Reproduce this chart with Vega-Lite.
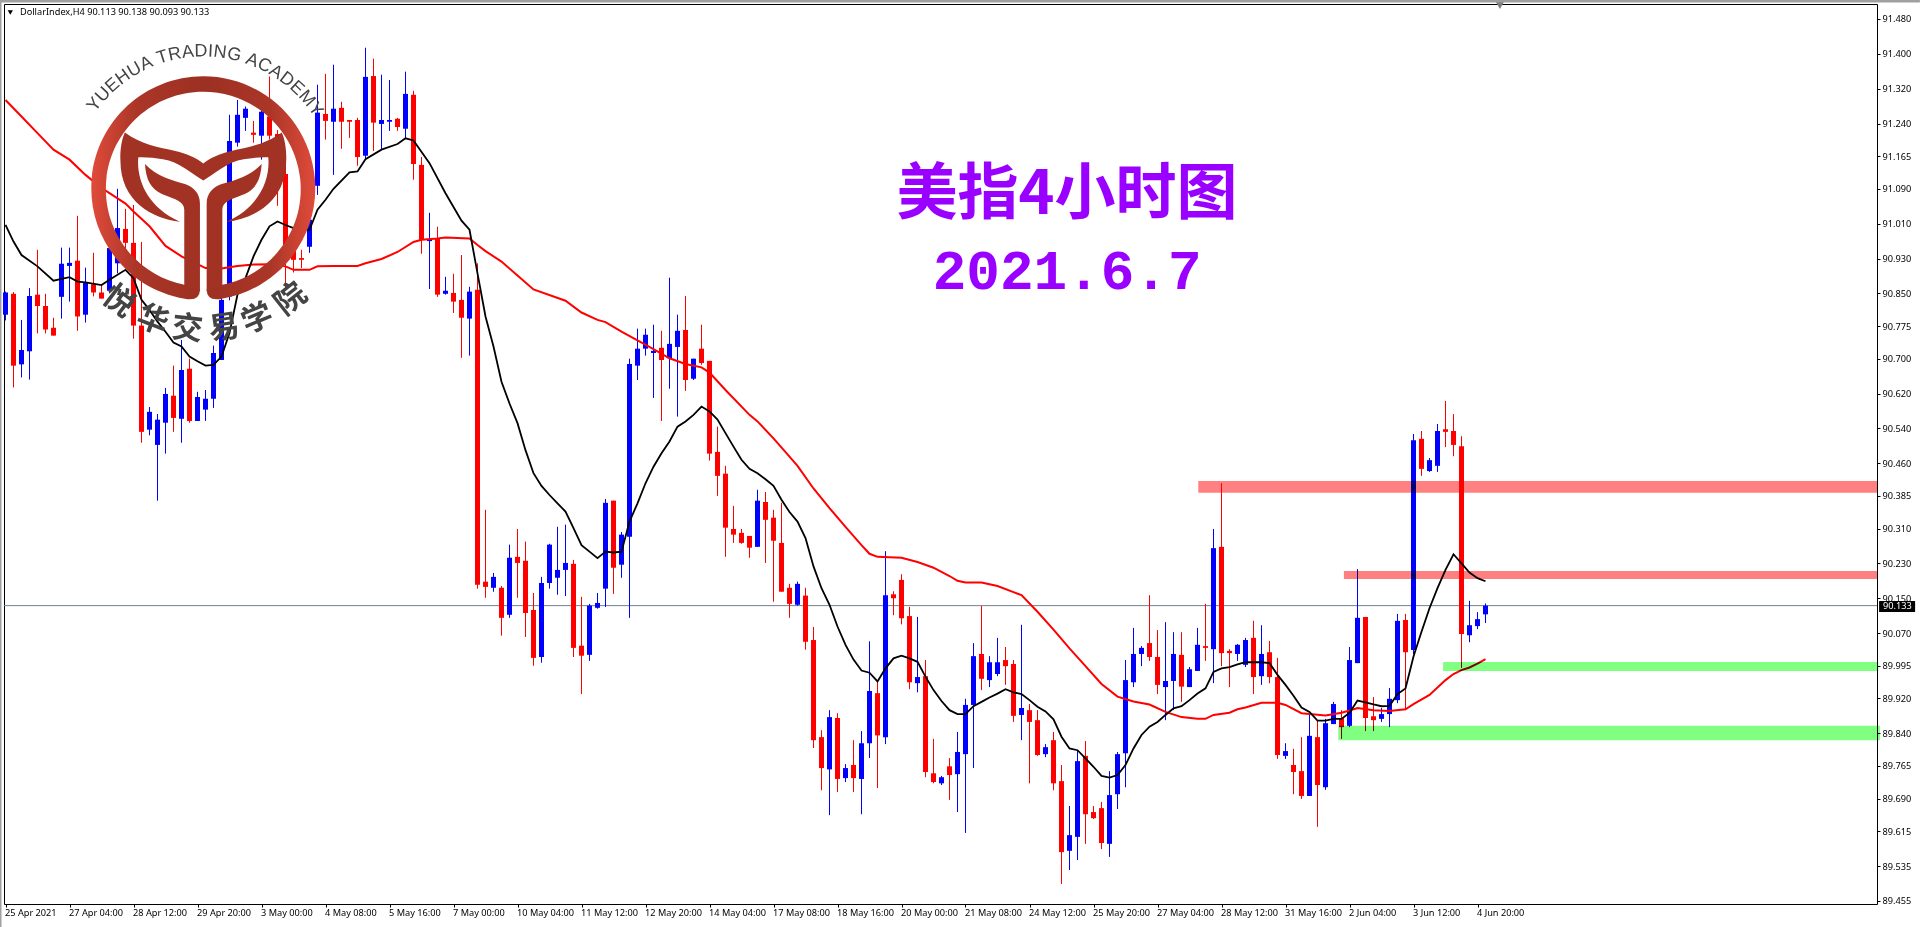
{
"$schema":"https://vega.github.io/schema/vega-lite/v6.json",
"width":1873,"height":900,
"autosize":{"type":"none"},
"padding":{"left":4,"top":4,"right":43,"bottom":23},
"background":"#ffffff",
"config":{"view":{"stroke":"#000000","strokeWidth":1},"axis":{"labelFont":"Noto Sans","labelFontSize":9.2,"labelColor":"#000000","tickColor":"#000000"}},
"datasets":{
"candles":[
{"bar":0,"o":90.801,"h":90.854,"l":90.788,"c":90.852},
{"bar":1,"o":90.849,"h":90.853,"l":90.634,"c":90.684},
{"bar":2,"o":90.687,"h":90.789,"l":90.657,"c":90.720},
{"bar":3,"o":90.717,"h":90.862,"l":90.652,"c":90.844},
{"bar":4,"o":90.847,"h":90.950,"l":90.758,"c":90.821},
{"bar":5,"o":90.821,"h":90.849,"l":90.758,"c":90.767},
{"bar":6,"o":90.771,"h":90.794,"l":90.753,"c":90.753},
{"bar":7,"o":90.842,"h":90.955,"l":90.792,"c":90.918},
{"bar":8,"o":90.913,"h":90.955,"l":90.831,"c":90.920},
{"bar":9,"o":90.925,"h":91.028,"l":90.764,"c":90.797},
{"bar":10,"o":90.801,"h":90.909,"l":90.783,"c":90.876},
{"bar":11,"o":90.871,"h":90.943,"l":90.843,"c":90.852},
{"bar":12,"o":90.852,"h":90.870,"l":90.838,"c":90.838},
{"bar":13,"o":90.856,"h":90.988,"l":90.850,"c":90.954},
{"bar":14,"o":90.919,"h":91.090,"l":90.896,"c":91.000},
{"bar":15,"o":90.998,"h":91.044,"l":90.912,"c":90.966},
{"bar":16,"o":90.966,"h":91.053,"l":90.746,"c":90.776},
{"bar":17,"o":90.776,"h":90.968,"l":90.507,"c":90.532},
{"bar":18,"o":90.537,"h":90.589,"l":90.524,"c":90.578},
{"bar":19,"o":90.502,"h":90.573,"l":90.374,"c":90.560},
{"bar":20,"o":90.553,"h":90.633,"l":90.482,"c":90.619},
{"bar":21,"o":90.615,"h":90.684,"l":90.532,"c":90.564},
{"bar":22,"o":90.562,"h":90.743,"l":90.507,"c":90.674},
{"bar":23,"o":90.677,"h":90.700,"l":90.553,"c":90.557},
{"bar":24,"o":90.557,"h":90.624,"l":90.557,"c":90.612},
{"bar":25,"o":90.583,"h":90.628,"l":90.557,"c":90.608},
{"bar":26,"o":90.608,"h":90.730,"l":90.587,"c":90.713},
{"bar":27,"o":90.697,"h":90.850,"l":90.697,"c":90.835},
{"bar":28,"o":90.843,"h":91.260,"l":90.834,"c":91.200},
{"bar":29,"o":91.196,"h":91.294,"l":91.187,"c":91.260},
{"bar":30,"o":91.253,"h":91.279,"l":91.223,"c":91.274},
{"bar":31,"o":91.219,"h":91.246,"l":91.196,"c":91.214},
{"bar":32,"o":91.212,"h":91.294,"l":91.157,"c":91.267},
{"bar":33,"o":91.256,"h":91.348,"l":91.203,"c":91.212},
{"bar":34,"o":91.216,"h":91.225,"l":91.051,"c":91.157},
{"bar":35,"o":91.124,"h":91.145,"l":90.858,"c":90.927},
{"bar":36,"o":90.973,"h":90.988,"l":90.898,"c":90.927},
{"bar":37,"o":90.931,"h":90.950,"l":90.908,"c":90.927},
{"bar":38,"o":90.957,"h":91.034,"l":90.943,"c":91.019},
{"bar":39,"o":91.097,"h":91.329,"l":91.076,"c":91.265},
{"bar":40,"o":91.262,"h":91.354,"l":91.203,"c":91.246},
{"bar":41,"o":91.244,"h":91.375,"l":91.122,"c":91.274},
{"bar":42,"o":91.276,"h":91.290,"l":91.182,"c":91.244},
{"bar":43,"o":91.248,"h":91.248,"l":91.207,"c":91.244},
{"bar":44,"o":91.248,"h":91.253,"l":91.143,"c":91.163},
{"bar":45,"o":91.166,"h":91.414,"l":91.157,"c":91.347},
{"bar":46,"o":91.349,"h":91.389,"l":91.177,"c":91.242},
{"bar":47,"o":91.239,"h":91.352,"l":91.180,"c":91.248},
{"bar":48,"o":91.244,"h":91.340,"l":91.223,"c":91.248},
{"bar":49,"o":91.251,"h":91.253,"l":91.223,"c":91.232},
{"bar":50,"o":91.228,"h":91.359,"l":91.206,"c":91.308},
{"bar":51,"o":91.306,"h":91.315,"l":91.111,"c":91.147},
{"bar":52,"o":91.145,"h":91.163,"l":90.941,"c":90.973},
{"bar":53,"o":90.970,"h":91.035,"l":90.860,"c":90.974},
{"bar":54,"o":90.975,"h":91.003,"l":90.842,"c":90.847},
{"bar":55,"o":90.849,"h":90.888,"l":90.847,"c":90.856},
{"bar":56,"o":90.851,"h":90.895,"l":90.805,"c":90.831},
{"bar":57,"o":90.835,"h":90.938,"l":90.702,"c":90.794},
{"bar":58,"o":90.792,"h":90.865,"l":90.707,"c":90.854},
{"bar":59,"o":90.858,"h":90.919,"l":90.172,"c":90.181},
{"bar":60,"o":90.188,"h":90.353,"l":90.151,"c":90.176},
{"bar":61,"o":90.174,"h":90.208,"l":90.165,"c":90.199},
{"bar":62,"o":90.174,"h":90.178,"l":90.064,"c":90.105},
{"bar":63,"o":90.112,"h":90.273,"l":90.105,"c":90.243},
{"bar":64,"o":90.245,"h":90.309,"l":90.151,"c":90.231},
{"bar":65,"o":90.236,"h":90.280,"l":90.061,"c":90.116},
{"bar":66,"o":90.123,"h":90.162,"l":89.995,"c":90.013},
{"bar":67,"o":90.015,"h":90.199,"l":90.002,"c":90.185},
{"bar":68,"o":90.185,"h":90.275,"l":90.172,"c":90.273},
{"bar":69,"o":90.197,"h":90.314,"l":90.158,"c":90.215},
{"bar":70,"o":90.215,"h":90.319,"l":90.155,"c":90.231},
{"bar":71,"o":90.229,"h":90.238,"l":90.015,"c":90.036},
{"bar":72,"o":90.041,"h":90.153,"l":89.930,"c":90.018},
{"bar":73,"o":90.020,"h":90.137,"l":90.006,"c":90.133},
{"bar":74,"o":90.128,"h":90.162,"l":90.126,"c":90.139},
{"bar":75,"o":90.172,"h":90.378,"l":90.130,"c":90.369},
{"bar":76,"o":90.374,"h":90.374,"l":90.160,"c":90.220},
{"bar":77,"o":90.227,"h":90.302,"l":90.197,"c":90.296},
{"bar":78,"o":90.291,"h":90.700,"l":90.105,"c":90.688},
{"bar":79,"o":90.684,"h":90.769,"l":90.651,"c":90.723},
{"bar":80,"o":90.723,"h":90.769,"l":90.707,"c":90.755},
{"bar":81,"o":90.713,"h":90.778,"l":90.610,"c":90.718},
{"bar":82,"o":90.725,"h":90.764,"l":90.557,"c":90.697},
{"bar":83,"o":90.701,"h":90.886,"l":90.631,"c":90.734},
{"bar":84,"o":90.727,"h":90.801,"l":90.567,"c":90.764},
{"bar":85,"o":90.766,"h":90.844,"l":90.626,"c":90.651},
{"bar":86,"o":90.654,"h":90.700,"l":90.651,"c":90.700},
{"bar":87,"o":90.723,"h":90.778,"l":90.686,"c":90.690},
{"bar":88,"o":90.695,"h":90.695,"l":90.466,"c":90.482},
{"bar":89,"o":90.486,"h":90.544,"l":90.385,"c":90.431},
{"bar":90,"o":90.436,"h":90.454,"l":90.245,"c":90.312},
{"bar":91,"o":90.309,"h":90.362,"l":90.277,"c":90.296},
{"bar":92,"o":90.300,"h":90.309,"l":90.275,"c":90.277},
{"bar":93,"o":90.293,"h":90.293,"l":90.243,"c":90.266},
{"bar":94,"o":90.268,"h":90.399,"l":90.268,"c":90.374},
{"bar":95,"o":90.371,"h":90.394,"l":90.231,"c":90.330},
{"bar":96,"o":90.335,"h":90.353,"l":90.142,"c":90.282},
{"bar":97,"o":90.277,"h":90.369,"l":90.165,"c":90.165},
{"bar":98,"o":90.174,"h":90.183,"l":90.105,"c":90.137},
{"bar":99,"o":90.135,"h":90.188,"l":90.133,"c":90.183},
{"bar":100,"o":90.156,"h":90.174,"l":90.032,"c":90.050},
{"bar":101,"o":90.054,"h":90.084,"l":89.806,"c":89.824},
{"bar":102,"o":89.831,"h":89.847,"l":89.709,"c":89.760},
{"bar":103,"o":89.757,"h":89.893,"l":89.652,"c":89.877},
{"bar":104,"o":89.875,"h":89.886,"l":89.705,"c":89.735},
{"bar":105,"o":89.737,"h":89.769,"l":89.728,"c":89.760},
{"bar":106,"o":89.767,"h":89.824,"l":89.705,"c":89.737},
{"bar":107,"o":89.735,"h":89.845,"l":89.654,"c":89.817},
{"bar":108,"o":89.817,"h":90.051,"l":89.783,"c":89.937},
{"bar":109,"o":89.932,"h":89.962,"l":89.714,"c":89.835},
{"bar":110,"o":89.831,"h":90.258,"l":89.815,"c":90.157},
{"bar":111,"o":90.159,"h":90.166,"l":90.111,"c":90.150},
{"bar":112,"o":90.192,"h":90.205,"l":90.090,"c":90.104},
{"bar":113,"o":90.109,"h":90.130,"l":89.941,"c":89.957},
{"bar":114,"o":89.955,"h":90.107,"l":89.934,"c":89.969},
{"bar":115,"o":89.971,"h":90.008,"l":89.739,"c":89.751},
{"bar":116,"o":89.748,"h":89.827,"l":89.725,"c":89.728},
{"bar":117,"o":89.725,"h":89.742,"l":89.721,"c":89.739},
{"bar":118,"o":89.764,"h":89.783,"l":89.687,"c":89.744},
{"bar":119,"o":89.746,"h":89.843,"l":89.659,"c":89.797},
{"bar":120,"o":89.792,"h":89.919,"l":89.611,"c":89.905},
{"bar":121,"o":89.905,"h":90.047,"l":89.760,"c":90.017},
{"bar":122,"o":90.022,"h":90.132,"l":89.939,"c":89.965},
{"bar":123,"o":89.962,"h":90.017,"l":89.946,"c":90.003},
{"bar":124,"o":89.976,"h":90.059,"l":89.971,"c":90.003},
{"bar":125,"o":90.008,"h":90.038,"l":89.951,"c":89.994},
{"bar":126,"o":89.999,"h":90.008,"l":89.866,"c":89.880},
{"bar":127,"o":89.882,"h":90.089,"l":89.824,"c":89.898},
{"bar":128,"o":89.893,"h":89.907,"l":89.725,"c":89.866},
{"bar":129,"o":89.870,"h":89.893,"l":89.788,"c":89.790},
{"bar":130,"o":89.792,"h":89.815,"l":89.785,"c":89.808},
{"bar":131,"o":89.824,"h":89.843,"l":89.709,"c":89.725},
{"bar":132,"o":89.730,"h":89.767,"l":89.494,"c":89.567},
{"bar":133,"o":89.570,"h":89.673,"l":89.526,"c":89.606},
{"bar":134,"o":89.602,"h":89.801,"l":89.549,"c":89.776},
{"bar":135,"o":89.788,"h":89.822,"l":89.586,"c":89.654},
{"bar":136,"o":89.659,"h":89.673,"l":89.643,"c":89.645},
{"bar":137,"o":89.668,"h":89.682,"l":89.574,"c":89.588},
{"bar":138,"o":89.586,"h":89.753,"l":89.556,"c":89.698},
{"bar":139,"o":89.700,"h":89.797,"l":89.666,"c":89.792},
{"bar":140,"o":89.794,"h":90.008,"l":89.716,"c":89.962},
{"bar":141,"o":89.957,"h":90.082,"l":89.946,"c":90.022},
{"bar":142,"o":90.022,"h":90.040,"l":89.994,"c":90.036},
{"bar":143,"o":90.047,"h":90.157,"l":90.006,"c":90.015},
{"bar":144,"o":90.015,"h":90.077,"l":89.930,"c":89.951},
{"bar":145,"o":89.946,"h":90.095,"l":89.870,"c":89.960},
{"bar":146,"o":89.960,"h":90.072,"l":89.893,"c":90.022},
{"bar":147,"o":90.020,"h":90.072,"l":89.912,"c":89.947},
{"bar":148,"o":89.946,"h":89.992,"l":89.946,"c":89.987},
{"bar":149,"o":89.983,"h":90.082,"l":89.983,"c":90.043},
{"bar":150,"o":90.040,"h":90.137,"l":90.006,"c":90.036},
{"bar":151,"o":90.033,"h":90.309,"l":89.955,"c":90.265},
{"bar":152,"o":90.268,"h":90.414,"l":89.994,"c":90.024},
{"bar":153,"o":90.029,"h":90.033,"l":89.946,"c":90.024},
{"bar":154,"o":90.022,"h":90.045,"l":90.006,"c":90.043},
{"bar":155,"o":89.997,"h":90.059,"l":89.992,"c":90.054},
{"bar":156,"o":90.059,"h":90.098,"l":89.930,"c":89.969},
{"bar":157,"o":89.971,"h":90.088,"l":89.951,"c":90.022},
{"bar":158,"o":90.026,"h":90.052,"l":89.955,"c":89.969},
{"bar":159,"o":89.969,"h":90.013,"l":89.781,"c":89.790},
{"bar":160,"o":89.788,"h":89.817,"l":89.781,"c":89.799},
{"bar":161,"o":89.767,"h":89.804,"l":89.700,"c":89.751},
{"bar":162,"o":89.753,"h":89.831,"l":89.689,"c":89.696},
{"bar":163,"o":89.696,"h":89.882,"l":89.696,"c":89.834},
{"bar":164,"o":89.831,"h":89.870,"l":89.625,"c":89.721},
{"bar":165,"o":89.716,"h":89.873,"l":89.710,"c":89.863},
{"bar":166,"o":89.861,"h":89.912,"l":89.861,"c":89.907},
{"bar":167,"o":89.875,"h":89.893,"l":89.827,"c":89.854},
{"bar":168,"o":89.857,"h":90.038,"l":89.854,"c":90.008},
{"bar":169,"o":90.001,"h":90.217,"l":90.001,"c":90.105},
{"bar":170,"o":90.107,"h":90.107,"l":89.845,"c":89.875},
{"bar":171,"o":89.879,"h":89.923,"l":89.845,"c":89.870},
{"bar":172,"o":89.873,"h":89.898,"l":89.866,"c":89.884},
{"bar":173,"o":89.884,"h":89.944,"l":89.854,"c":89.919},
{"bar":174,"o":89.916,"h":90.114,"l":89.909,"c":90.098},
{"bar":175,"o":90.100,"h":90.114,"l":89.893,"c":90.026},
{"bar":176,"o":90.031,"h":90.527,"l":90.022,"c":90.513},
{"bar":177,"o":90.516,"h":90.534,"l":90.431,"c":90.447},
{"bar":178,"o":90.442,"h":90.472,"l":90.440,"c":90.467},
{"bar":179,"o":90.454,"h":90.550,"l":90.440,"c":90.534},
{"bar":180,"o":90.538,"h":90.603,"l":90.497,"c":90.532},
{"bar":181,"o":90.534,"h":90.573,"l":90.476,"c":90.502},
{"bar":182,"o":90.499,"h":90.522,"l":89.990,"c":90.068},
{"bar":183,"o":90.065,"h":90.144,"l":90.049,"c":90.088},
{"bar":184,"o":90.086,"h":90.118,"l":90.079,"c":90.102},
{"bar":185,"o":90.113,"h":90.138,"l":90.093,"c":90.133}
],
"fast":[
{"bar":0,"p":91.007},{"bar":1,"p":90.969},{"bar":2,"p":90.938},{"bar":4,"p":90.912},{"bar":6,"p":90.879},{"bar":7,"p":90.883},{"bar":8,"p":90.887},{"bar":9,"p":90.877},{"bar":10,"p":90.875},{"bar":12,"p":90.869},{"bar":13,"p":90.881},{"bar":15,"p":90.904},{"bar":16,"p":90.885},{"bar":17,"p":90.835},{"bar":18,"p":90.812},{"bar":19,"p":90.785},{"bar":20,"p":90.762},{"bar":21,"p":90.737},{"bar":22,"p":90.728},{"bar":23,"p":90.705},{"bar":24,"p":90.694},{"bar":25,"p":90.684},{"bar":26,"p":90.686},{"bar":27,"p":90.705},{"bar":28,"p":90.759},{"bar":29,"p":90.847},{"bar":30,"p":90.885},{"bar":31,"p":90.935},{"bar":32,"p":90.973},{"bar":33,"p":91.004},{"bar":34,"p":91.015},{"bar":35,"p":91.007},{"bar":36,"p":91.000},{"bar":38,"p":90.996},{"bar":39,"p":91.042},{"bar":40,"p":91.065},{"bar":41,"p":91.090},{"bar":43,"p":91.128},{"bar":44,"p":91.130},{"bar":45,"p":91.158},{"bar":47,"p":91.180},{"bar":49,"p":91.193},{"bar":50,"p":91.206},{"bar":51,"p":91.201},{"bar":53,"p":91.149},{"bar":55,"p":91.080},{"bar":57,"p":91.017},{"bar":58,"p":90.996},{"bar":59,"p":90.896},{"bar":60,"p":90.797},{"bar":61,"p":90.728},{"bar":62,"p":90.647},{"bar":63,"p":90.597},{"bar":64,"p":90.552},{"bar":65,"p":90.490},{"bar":66,"p":90.437},{"bar":67,"p":90.408},{"bar":68,"p":90.387},{"bar":69,"p":90.368},{"bar":70,"p":90.349},{"bar":71,"p":90.311},{"bar":72,"p":90.272},{"bar":73,"p":90.257},{"bar":74,"p":90.242},{"bar":75,"p":90.257},{"bar":76,"p":90.255},{"bar":77,"p":90.257},{"bar":78,"p":90.326},{"bar":79,"p":90.368},{"bar":80,"p":90.414},{"bar":81,"p":90.452},{"bar":82,"p":90.483},{"bar":83,"p":90.510},{"bar":84,"p":90.544},{"bar":85,"p":90.556},{"bar":86,"p":90.571},{"bar":87,"p":90.590},{"bar":88,"p":90.579},{"bar":89,"p":90.560},{"bar":90,"p":90.529},{"bar":91,"p":90.498},{"bar":92,"p":90.468},{"bar":93,"p":90.447},{"bar":94,"p":90.437},{"bar":95,"p":90.423},{"bar":96,"p":90.408},{"bar":97,"p":90.376},{"bar":98,"p":90.348},{"bar":99,"p":90.326},{"bar":100,"p":90.288},{"bar":101,"p":90.223},{"bar":102,"p":90.173},{"bar":103,"p":90.135},{"bar":104,"p":90.085},{"bar":105,"p":90.043},{"bar":106,"p":90.009},{"bar":107,"p":89.984},{"bar":108,"p":89.979},{"bar":109,"p":89.959},{"bar":110,"p":89.989},{"bar":111,"p":90.012},{"bar":112,"p":90.018},{"bar":113,"p":90.012},{"bar":114,"p":90.004},{"bar":115,"p":89.970},{"bar":116,"p":89.939},{"bar":117,"p":89.914},{"bar":118,"p":89.893},{"bar":119,"p":89.884},{"bar":120,"p":89.884},{"bar":121,"p":89.902},{"bar":122,"p":89.912},{"bar":123,"p":89.922},{"bar":124,"p":89.931},{"bar":125,"p":89.941},{"bar":126,"p":89.934},{"bar":127,"p":89.930},{"bar":128,"p":89.916},{"bar":129,"p":89.901},{"bar":130,"p":89.890},{"bar":131,"p":89.872},{"bar":132,"p":89.832},{"bar":133,"p":89.805},{"bar":134,"p":89.801},{"bar":135,"p":89.782},{"bar":136,"p":89.763},{"bar":137,"p":89.742},{"bar":138,"p":89.738},{"bar":139,"p":89.744},{"bar":140,"p":89.767},{"bar":141,"p":89.805},{"bar":142,"p":89.836},{"bar":143,"p":89.855},{"bar":144,"p":89.866},{"bar":145,"p":89.882},{"bar":146,"p":89.897},{"bar":147,"p":89.902},{"bar":148,"p":89.916},{"bar":149,"p":89.931},{"bar":150,"p":89.943},{"bar":151,"p":89.981},{"bar":152,"p":89.989},{"bar":153,"p":89.992},{"bar":154,"p":89.998},{"bar":155,"p":90.003},{"bar":156,"p":90.003},{"bar":157,"p":90.003},{"bar":158,"p":90.001},{"bar":159,"p":89.974},{"bar":160,"p":89.951},{"bar":161,"p":89.926},{"bar":162,"p":89.899},{"bar":163,"p":89.889},{"bar":164,"p":89.869},{"bar":165,"p":89.869},{"bar":166,"p":89.873},{"bar":167,"p":89.873},{"bar":168,"p":89.887},{"bar":169,"p":89.915},{"bar":170,"p":89.911},{"bar":171,"p":89.906},{"bar":172,"p":89.902},{"bar":173,"p":89.903},{"bar":174,"p":89.930},{"bar":175,"p":89.943},{"bar":176,"p":90.016},{"bar":177,"p":90.073},{"bar":178,"p":90.127},{"bar":179,"p":90.173},{"bar":180,"p":90.215},{"bar":181,"p":90.251},{"bar":182,"p":90.230},{"bar":183,"p":90.209},{"bar":184,"p":90.196},{"bar":185,"p":90.189}
],
"slow":[
{"bar":0,"p":91.294},{"bar":2,"p":91.256},{"bar":4,"p":91.218},{"bar":6,"p":91.180},{"bar":8,"p":91.157},{"bar":10,"p":91.122},{"bar":12,"p":91.092},{"bar":13,"p":91.080},{"bar":15,"p":91.056},{"bar":16,"p":91.038},{"bar":18,"p":91.004},{"bar":20,"p":90.959},{"bar":22,"p":90.935},{"bar":24,"p":90.917},{"bar":25,"p":90.908},{"bar":27,"p":90.907},{"bar":29,"p":90.913},{"bar":31,"p":90.916},{"bar":33,"p":90.917},{"bar":35,"p":90.912},{"bar":36,"p":90.904},{"bar":38,"p":90.904},{"bar":39,"p":90.912},{"bar":41,"p":90.913},{"bar":44,"p":90.913},{"bar":45,"p":90.919},{"bar":47,"p":90.929},{"bar":49,"p":90.945},{"bar":51,"p":90.968},{"bar":52,"p":90.973},{"bar":54,"p":90.976},{"bar":55,"p":90.978},{"bar":58,"p":90.976},{"bar":59,"p":90.961},{"bar":60,"p":90.947},{"bar":62,"p":90.923},{"bar":64,"p":90.891},{"bar":66,"p":90.859},{"bar":70,"p":90.833},{"bar":72,"p":90.806},{"bar":74,"p":90.789},{"bar":75,"p":90.784},{"bar":77,"p":90.762},{"bar":79,"p":90.742},{"bar":81,"p":90.722},{"bar":83,"p":90.701},{"bar":85,"p":90.688},{"bar":87,"p":90.680},{"bar":88,"p":90.668},{"bar":90,"p":90.628},{"bar":93,"p":90.571},{"bar":94,"p":90.556},{"bar":96,"p":90.517},{"bar":98,"p":90.475},{"bar":99,"p":90.454},{"bar":101,"p":90.402},{"bar":103,"p":90.357},{"bar":105,"p":90.314},{"bar":107,"p":90.272},{"bar":108,"p":90.252},{"bar":109,"p":90.245},{"bar":112,"p":90.243},{"bar":114,"p":90.233},{"bar":116,"p":90.220},{"bar":118,"p":90.201},{"bar":119,"p":90.190},{"bar":120,"p":90.186},{"bar":122,"p":90.186},{"bar":124,"p":90.178},{"bar":126,"p":90.164},{"bar":127,"p":90.157},{"bar":129,"p":90.119},{"bar":131,"p":90.078},{"bar":133,"p":90.035},{"bar":135,"p":89.994},{"bar":137,"p":89.953},{"bar":139,"p":89.924},{"bar":141,"p":89.913},{"bar":143,"p":89.906},{"bar":145,"p":89.889},{"bar":147,"p":89.877},{"bar":149,"p":89.873},{"bar":150,"p":89.873},{"bar":151,"p":89.882},{"bar":153,"p":89.887},{"bar":154,"p":89.895},{"bar":155,"p":89.899},{"bar":157,"p":89.910},{"bar":159,"p":89.910},{"bar":160,"p":89.905},{"bar":162,"p":89.886},{"bar":163,"p":89.884},{"bar":165,"p":89.881},{"bar":167,"p":89.887},{"bar":168,"p":89.892},{"bar":169,"p":89.898},{"bar":171,"p":89.893},{"bar":173,"p":89.891},{"bar":175,"p":89.895},{"bar":176,"p":89.907},{"bar":178,"p":89.928},{"bar":179,"p":89.945},{"bar":180,"p":89.962},{"bar":181,"p":89.976},{"bar":182,"p":89.985},{"bar":183,"p":89.991},{"bar":184,"p":90.000},{"bar":185,"p":90.010}
],
"zones":[
{"bar":149.1,"bar2":233.94,"p":90.419,"p2":90.392,"kind":"resistance"},
{"bar":167.3,"bar2":233.94,"p":90.2125,"p2":90.194,"kind":"resistance"},
{"bar":179.7,"bar2":234.1,"p":90.0035,"p2":89.983,"kind":"support"},
{"bar":166.6,"bar2":234.3,"p":89.857,"p2":89.824,"kind":"support"}
],
"en":[
{"ch":"Y","deg":-52.4},{"ch":"U","deg":-46.9},{"ch":"E","deg":-41.4},{"ch":"H","deg":-35.85},{"ch":"U","deg":-30.1},{"ch":"A","deg":-24.6},{"ch":"T","deg":-17.3},{"ch":"R","deg":-12.0},{"ch":"A","deg":-6.5},{"ch":"D","deg":-0.96},{"ch":"I","deg":3.0},{"ch":"N","deg":7.0},{"ch":"G","deg":13.0},{"ch":"A","deg":20.9},{"ch":"C","deg":26.4},{"ch":"A","deg":31.95},{"ch":"D","deg":37.5},{"ch":"E","deg":43.0},{"ch":"M","deg":49.0},{"ch":"Y","deg":54.9}
],
"zh":[
{"ch":"悦","deg":216.9},{"ch":"华","deg":201},{"ch":"交","deg":186.5},{"ch":"易","deg":171.5},{"ch":"学","deg":157.5},{"ch":"院","deg":141.7}
]
},
"encoding":{
"x":{"field":"bar","type":"quantitative","title":null,"scale":{"domain":[-0.1875,233.9375],"nice":false,"zero":false},
"axis":{"values":[0,8,16,24,32,40,48,56,64,72,80,88,96,104,112,120,128,136,144,152,160,168,176,184],
"labelExpr":"['25 Apr 2021','27 Apr 04:00','28 Apr 12:00','29 Apr 20:00','3 May 00:00','4 May 08:00','5 May 16:00','7 May 00:00','10 May 04:00','11 May 12:00','12 May 20:00','14 May 04:00','17 May 08:00','18 May 16:00','20 May 00:00','21 May 08:00','24 May 12:00','25 May 20:00','27 May 04:00','28 May 12:00','31 May 16:00','2 Jun 04:00','3 Jun 12:00','4 Jun 20:00'][round(datum.value/8)]",
"labelAlign":"left","labelBaseline":"top","labelOffset":-1,"labelPadding":1,"labelFlush":false,"labelOverlap":false,"tickSize":3,"grid":false,"domain":false}},
"y":{"field":"p","type":"quantitative","title":null,"scale":{"domain":[89.4479,91.5144],"nice":false,"zero":false},
"axis":{"orient":"right","values":[91.48,91.4,91.32,91.24,91.165,91.09,91.01,90.93,90.85,90.775,90.7,90.62,90.54,90.46,90.385,90.31,90.23,90.15,90.07,89.995,89.92,89.84,89.765,89.69,89.615,89.535,89.455],"format":".3f","labelOverlap":false,"labelFlush":false,"tickSize":3,"labelPadding":2,"grid":false,"domain":false}}
},
"layer":[
{"data":{"values":[{"bar":-0.1875,"bar2":233.9375,"p":90.133}]},"mark":{"type":"rule","stroke":"#708090","strokeWidth":1},
"encoding":{"x2":{"field":"bar2"}}},
{"data":{"name":"candles"},"transform":[{"calculate":"datum.h","as":"p"}],"mark":{"type":"rule","strokeWidth":1},
"encoding":{"y2":{"field":"l"},
"color":{"condition":{"test":"datum.c>=datum.o","value":"#0000ff"},"value":"#ff0000"}}},
{"data":{"name":"candles"},"transform":[{"calculate":"datum.o","as":"p"}],"mark":{"type":"rule","strokeWidth":5,"strokeCap":"butt"},
"encoding":{"y2":{"field":"c"},
"color":{"condition":{"test":"datum.c>=datum.o","value":"#0000ff"},"value":"#ff0000"}}},
{"data":{"name":"slow"},"mark":{"type":"line","stroke":"#ff0000","strokeWidth":2},"encoding":{}},
{"data":{"name":"fast"},"mark":{"type":"line","stroke":"#000000","strokeWidth":1.8},"encoding":{}},
{"data":{"name":"zones"},"mark":{"type":"rect","blend":"multiply","clip":false},
"encoding":{"x2":{"field":"bar2"},"y2":{"field":"p2"},
"color":{"field":"kind","type":"nominal","legend":null,"scale":{"domain":["resistance","support"],"range":["#ff8080","#80ff80"]}}}},
{"data":{"values":[{"bar":24.725,"p":91.091}]},"mark":{"type":"point","filled":true,"opacity":1,"strokeWidth":0,"size":50176,
"shape":"M -0.164 0.985 A 1 1 0 1 1 0.164 0.985 Q 0.03 1.01 0.03 0.9 L 0.17 0.86 A 0.87 0.87 0 1 0 -0.17 0.86 L -0.03 0.9 Q -0.03 1.01 -0.164 0.985 Z",
"fill":{"x1":0,"y1":0,"x2":1,"y2":0,"gradient":"linear","stops":[{"offset":0,"color":"#e04b3a"},{"offset":0.2,"color":"#ab3628"},{"offset":0.5,"color":"#9c3022"},{"offset":0.8,"color":"#ab3628"},{"offset":1,"color":"#e04b3a"}]}},"encoding":{}},
{"data":{"values":[{"bar":24.725,"p":91.091}]},"mark":{"type":"point","filled":true,"opacity":1,"strokeWidth":0,"size":50176,"fill":"#a23224",
"shape":"M -0.70 -0.50 C -0.55 -0.39 -0.40 -0.37 -0.25 -0.335 C -0.15 -0.31 -0.07 -0.28 0 -0.223 C 0.07 -0.28 0.15 -0.31 0.25 -0.335 C 0.40 -0.37 0.55 -0.39 0.70 -0.50 C 0.73 -0.44 0.745 -0.33 0.74 -0.25 C 0.74 0.12 0.45 0.27 0.208 0.298 C 0.50 0.17 0.60 -0.08 0.58 -0.277 Q 0.47 -0.28 0.36 -0.26 C 0.22 -0.24 0.10 -0.13 0 -0.07 C -0.10 -0.13 -0.22 -0.24 -0.36 -0.26 Q -0.47 -0.28 -0.58 -0.277 C -0.60 -0.08 -0.50 0.17 -0.208 0.298 C -0.45 0.27 -0.74 0.12 -0.74 -0.25 C -0.745 -0.33 -0.73 -0.44 -0.70 -0.50 Z M -0.521 -0.217 C -0.417 -0.104 -0.268 -0.068 -0.164 -0.039 C -0.089 -0.015 -0.03 0.045 -0.03 0.134 L -0.03 0.92 L -0.17 0.87 L -0.17 0.19 C -0.17 0.12 -0.24 0.10 -0.37 0.05 C -0.47 0 -0.51 -0.07 -0.521 -0.217 Z M 0.521 -0.217 C 0.417 -0.104 0.268 -0.068 0.164 -0.039 C 0.089 -0.015 0.03 0.045 0.03 0.134 L 0.03 0.92 L 0.17 0.87 L 0.17 0.19 C 0.17 0.12 0.24 0.10 0.37 0.05 C 0.47 0 0.51 -0.07 0.521 -0.217 Z"},"encoding":{}},
{"data":{"name":"en"},"transform":[{"calculate":"24.725+137*sin(datum.deg*PI/180)/8","as":"bar"},{"calculate":"91.091+137*cos(datum.deg*PI/180)/435.5","as":"p"}],
"mark":{"type":"text","font":"Liberation Sans","fontSize":18,"color":"#444444","align":"center","baseline":"middle"},
"encoding":{"text":{"field":"ch"},"angle":{"field":"deg","type":"quantitative","scale":null}}},
{"data":{"name":"zh"},"transform":[{"calculate":"24.725+142*sin(datum.deg*PI/180)/8","as":"bar"},{"calculate":"91.091+142*cos(datum.deg*PI/180)/435.5","as":"p"},{"calculate":"datum.deg-180","as":"rot"}],
"mark":{"type":"text","font":"Noto Sans CJK SC","fontSize":31,"fontWeight":"bold","color":"#444444","align":"center","baseline":"middle"},
"encoding":{"text":{"field":"ch"},"angle":{"field":"rot","type":"quantitative","scale":null}}},
{"data":{"values":[{"bar":132.7,"p":91.074,"t":"美指4小时图"}]},"mark":{"type":"text","font":"Noto Sans CJK SC","fontSize":61,"fontWeight":"bold","color":"#9900ff","align":"center","baseline":"middle"},
"encoding":{"text":{"field":"t"}}},
{"data":{"values":[{"bar":132.7,"p":90.899,"t":"2021.6.7"}]},"mark":{"type":"text","font":"Liberation Mono","fontWeight":"bold","fontSize":56,"color":"#9900ff","align":"center","baseline":"middle"},
"encoding":{"text":{"field":"t"}}},
{"data":{"values":[{"bar":1.81,"p":91.495,"t":"DollarIndex,H4  90.113 90.138 90.093 90.133"}]},"mark":{"type":"text","font":"Noto Sans","fontSize":9.2,"color":"#000000","align":"left","baseline":"middle"},
"encoding":{"text":{"field":"t"}}},
{"data":{"values":[{"bar":0.6,"p":91.495}]},"mark":{"type":"point","shape":"triangle-down","filled":true,"opacity":1,"size":28,"fill":"#000000","strokeWidth":0},"encoding":{}},
{"data":{"values":[{"bar":186.8,"p":91.511}]},"mark":{"type":"point","shape":"triangle-down","filled":true,"opacity":1,"size":70,"fill":"#808080","strokeWidth":0},"encoding":{}},
{"data":{"values":[{"bar":234.2,"bar2":238.7,"p":90.1436,"p2":90.1183}]},"mark":{"type":"rect","fill":"#000000","clip":false},
"encoding":{"x2":{"field":"bar2"},"y2":{"field":"p2"}}},
{"data":{"values":[{"bar":234.7,"p":90.133,"t":"90.133"}]},"mark":{"type":"text","font":"Noto Sans","fontSize":9.2,"color":"#ffffff","align":"left","baseline":"middle"},
"encoding":{"text":{"field":"t"}}},
{"data":{"values":[{"bar":-0.6875,"bar2":239.3,"p":91.5236,"p2":91.518},{"bar":-0.6875,"bar2":-0.5,"p":91.5236,"p2":89.39}]},"mark":{"type":"rect","fill":"#a0a0a0","clip":false},
"encoding":{"x2":{"field":"bar2"},"y2":{"field":"p2"}}}
]
}
